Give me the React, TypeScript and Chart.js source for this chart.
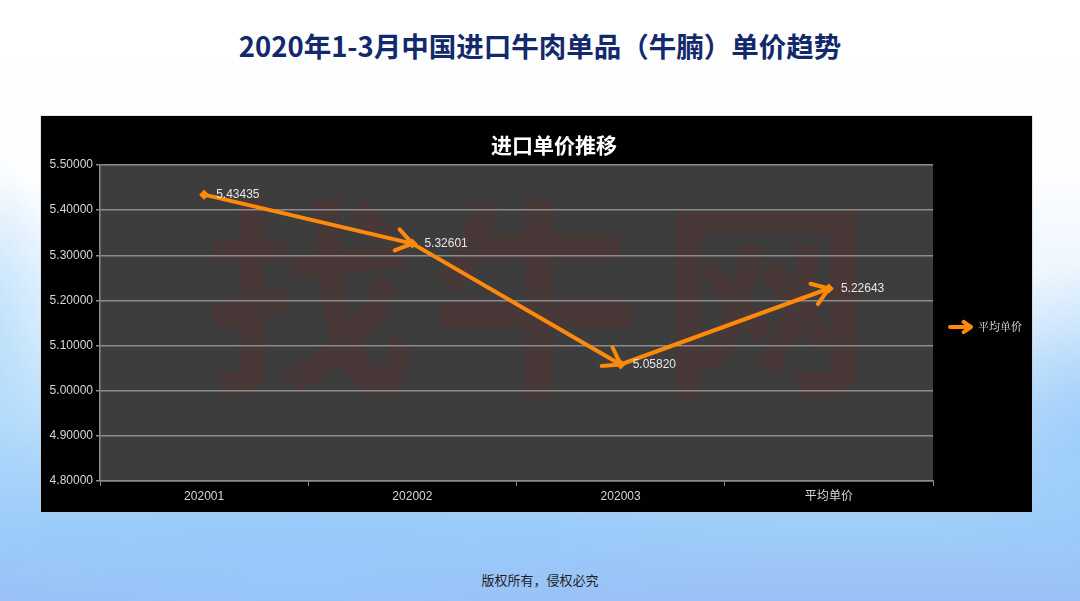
import React, { useEffect, useRef } from "react";
import { Chart, registerables } from "chart.js";

Chart.register(...registerables);

const pageTitle = "2020年1-3月中国进口牛肉单品（牛腩）单价趋势";
const chartTitle = "进口单价推移";
const footerText = "版权所有，侵权必究";
const watermark = "找牛网";
const seriesName = "平均单价";
const categories = ["202001", "202002", "202003", "平均单价"];
const prices = [5.43435, 5.32601, 5.0582, 5.22643];
const yMin = 4.8;
const yMax = 5.5;
const yStep = 0.1;

const ORANGE = "#ff8a0a";
const CJK = '"Noto Sans CJK SC", "Liberation Sans", sans-serif';
const LATIN = '"Liberation Sans", "Noto Sans CJK SC", sans-serif';

function drawArrowHead(ctx: CanvasRenderingContext2D, fx: number, fy: number, tx: number, ty: number, len: number) {
  const ang = Math.atan2(ty - fy, tx - fx);
  const spread = Math.PI / 5.2;
  ctx.beginPath();
  ctx.moveTo(tx - len * Math.cos(ang - spread), ty - len * Math.sin(ang - spread));
  ctx.lineTo(tx, ty);
  ctx.lineTo(tx - len * Math.cos(ang + spread), ty - len * Math.sin(ang + spread));
  ctx.stroke();
}

const decorPlugin = {
  id: "decor",
  beforeDraw(chart: any) {
    const { ctx, chartArea: a } = chart;
    ctx.save();
    ctx.fillStyle = "#000";
    ctx.fillRect(0, 0, chart.width, chart.height);
    ctx.fillStyle = "#3d3d3d";
    ctx.fillRect(a.left, a.top, a.right - a.left, a.bottom - a.top);
    // chart title
    ctx.fillStyle = "#ffffff";
    ctx.font = `bold 21px ${CJK}`;
    ctx.textAlign = "center";
    ctx.textBaseline = "middle";
    ctx.fillText(chartTitle, 513, 29);
    // watermark
    ctx.beginPath();
    ctx.rect(a.left, a.top, a.right - a.left, a.bottom - a.top);
    ctx.clip();
    ctx.fillStyle = "rgba(150, 25, 25, 0.14)";
    ctx.font = `bold 212px ${CJK}`;
    const w = a.right - a.left;
    const chars = Array.from(watermark);
    const fracs = [0.253, 0.523, 0.799];
    chars.forEach((c, i) => {
      ctx.fillText(c, a.left + w * fracs[i], a.top + 133);
    });
    ctx.restore();
  },
  afterDatasetsDraw(chart: any) {
    const { ctx } = chart;
    const meta = chart.getDatasetMeta(0);
    const pts = meta.data;
    ctx.save();
    ctx.strokeStyle = ORANGE;
    ctx.lineWidth = 4;
    ctx.lineCap = "round";
    ctx.lineJoin = "round";
    for (let i = 1; i < pts.length; i++) {
      drawArrowHead(ctx, pts[i - 1].x, pts[i - 1].y, pts[i].x, pts[i].y, 19);
    }
    // data labels
    ctx.fillStyle = "#e6e6e6";
    ctx.font = `12px ${LATIN}`;
    ctx.textAlign = "left";
    ctx.textBaseline = "middle";
    pts.forEach((p: any, i: number) => {
      ctx.fillText(prices[i].toFixed(5), p.x + 12, p.y);
    });
    // legend
    const lx = chart.chartArea.right + 17;
    const ly = 211;
    ctx.strokeStyle = ORANGE;
    ctx.lineWidth = 4;
    ctx.beginPath();
    ctx.moveTo(lx, ly);
    ctx.lineTo(lx + 20, ly);
    ctx.stroke();
    drawArrowHead(ctx, lx, ly, lx + 21, ly, 9);
    ctx.fillStyle = "#e6e6e6";
    ctx.font = `11px "Noto Serif CJK SC", ${CJK}`;
    ctx.fillText(seriesName, lx + 28, ly);
    ctx.restore();
  },
};

function ChartBox() {
  const ref = useRef<HTMLCanvasElement | null>(null);
  useEffect(() => {
    if (!ref.current) return;
    const chart = new Chart(ref.current, {
      type: "line",
      data: {
        labels: categories,
        datasets: [
          {
            label: seriesName,
            data: prices,
            borderColor: ORANGE,
            backgroundColor: ORANGE,
            borderWidth: 4,
            pointStyle: "rectRot",
            pointRadius: 5,
            pointBorderWidth: 0,
            pointBackgroundColor: ORANGE,
            tension: 0,
            fill: false,
          },
        ],
      },
      options: {
        responsive: false,
        animation: false,
        layout: { padding: { top: 49, right: 99, left: 0, bottom: 0 } },
        plugins: {
          legend: { display: false },
          tooltip: { enabled: false },
          title: { display: false },
        },
        scales: {
          x: {
            type: "category",
            offset: true,
            grid: {
              display: true,
              offset: true,
              drawOnChartArea: false,
              drawTicks: true,
              tickLength: 5,
              color: "#8c8c8c",
              lineWidth: 1,
            },
            border: { display: true, color: "#8c8c8c", width: 1.5 },
            ticks: {
              color: "#d6d6d6",
              font: { family: LATIN, size: 12 },
              padding: 3,
              maxRotation: 0,
            },
            afterFit(scale: any) {
              scale.height = 31;
            },
          },
          y: {
            min: yMin,
            max: yMax,
            grid: {
              color: "#8c8c8c",
              lineWidth: 1.5,
              drawTicks: true,
              tickLength: 4,
            },
            border: { display: true, color: "#8c8c8c", width: 1.5 },
            ticks: {
              stepSize: yStep,
              color: "#d6d6d6",
              font: { family: LATIN, size: 12 },
              padding: 3,
              callback: (v: any) => Number(v).toFixed(5),
            },
            afterFit(scale: any) {
              scale.width = 59;
            },
          },
        },
      },
      plugins: [decorPlugin],
    } as any);
    return () => chart.destroy();
  }, []);
  return <canvas ref={ref} width={991} height={396} style={{ display: "block", width: 991, height: 396 }} />;
}

export default function App() {
  return (
    <div
      style={{
        position: "absolute",
        left: 0,
        top: 0,
        width: 1080,
        height: 601,
        overflow: "hidden",
        background:
          "radial-gradient(ellipse 700px 260px at 300px 560px, rgba(150,200,250,0.8), rgba(150,200,250,0) 70%), radial-gradient(ellipse 200px 280px at -60px 340px, rgba(150,205,248,0.8), rgba(150,205,248,0) 70%), radial-gradient(ellipse 300px 260px at 1120px 440px, rgba(150,200,250,0.9), rgba(150,200,250,0) 70%), linear-gradient(to bottom, #ffffff 0%, #fbfdff 30%, #e6f3fd 55%, #b5dcfb 75%, #9ecdf8 88%, #9bbff5 100%)",
      }}
    >
      <div
        style={{
          position: "absolute",
          left: 0,
          top: 25,
          width: 1080,
          textAlign: "center",
          fontFamily: CJK,
          fontWeight: 700,
          fontSize: 27.5,
          color: "#13296b",
          lineHeight: "40px",
        }}
      >
        {pageTitle}
      </div>
      <div
        style={{
          position: "absolute",
          left: 41,
          top: 116,
          width: 991,
          height: 396,
          background: "#000",
          boxShadow: "0 0 0 1px rgba(200,200,200,0.5)",
        }}
      >
        <ChartBox />
      </div>
      <div
        style={{
          position: "absolute",
          left: 0,
          top: 571,
          width: 1080,
          textAlign: "center",
          fontFamily: CJK,
          fontSize: 13,
          color: "#1e1e2a",
          lineHeight: "18px",
        }}
      >
        {footerText}
      </div>
    </div>
  );
}
